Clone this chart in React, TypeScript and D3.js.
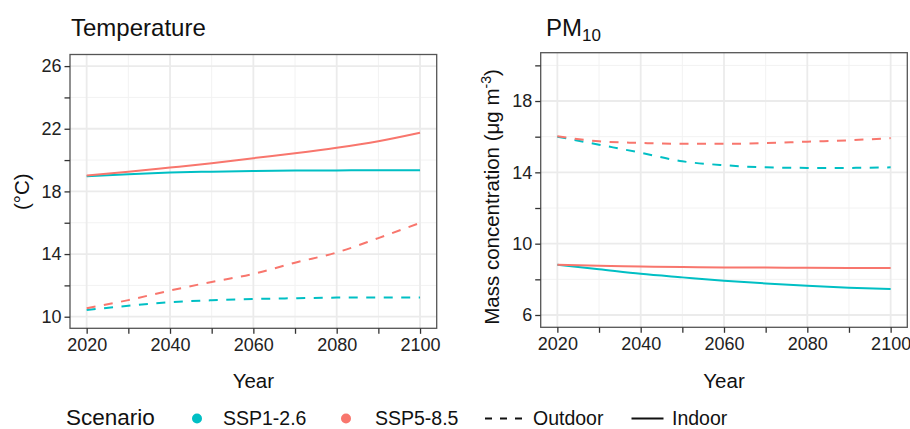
import React, { useEffect, useRef } from "react";
import * as d3 from "d3";

// data
const years = [2020, 2030, 2040, 2050, 2060, 2070, 2080, 2090, 2100];

const tempIndoorSSP1 = [18.96, 19.1, 19.2, 19.26, 19.3, 19.33, 19.34, 19.35, 19.35];
const tempIndoorSSP5 = [19.02, 19.25, 19.52, 19.8, 20.12, 20.43, 20.78, 21.2, 21.74];
const tempOutdoorSSP1 = [10.43, 10.7, 10.92, 11.05, 11.13, 11.18, 11.22, 11.23, 11.23];
const tempOutdoorSSP5 = [10.54, 11.06, 11.67, 12.22, 12.73, 13.45, 14.1, 15.02, 15.99];

const pmIndoorSSP1 = [8.82, 8.57, 8.31, 8.11, 7.92, 7.77, 7.64, 7.53, 7.46];
const pmIndoorSSP5 = [8.82, 8.76, 8.72, 8.69, 8.67, 8.66, 8.65, 8.64, 8.63];
const pmOutdoorSSP1 = [16.0, 15.55, 15.1, 14.62, 14.4, 14.28, 14.25, 14.25, 14.28];
const pmOutdoorSSP5 = [16.02, 15.74, 15.65, 15.6, 15.6, 15.64, 15.72, 15.8, 15.92];

const xMajor = [2020, 2040, 2060, 2080, 2100];
const xMinor = [2030, 2050, 2070, 2090];
const tempMajor = [10, 14, 18, 22, 26];
const tempMinor = [12, 16, 20, 24];
const pmMajor = [6, 10, 14, 18];
const pmMinor = [8, 12, 16, 20];

const scenarios = ["SSP1-2.6", "SSP5-8.5"];
const colors = ["#00BFC4", "#F8766D"];

const FONT = "'Liberation Sans', Arial, sans-serif";

const drawPanel = (svg, opts) => {
  const { left, right, top, bottom, yDomain, yMajor, yMinor, series } = opts;
  const x = d3.scaleLinear().domain([2016, 2104]).range([left, right]);
  const y = d3.scaleLinear().domain(yDomain).range([bottom, top]);

  const g = svg.append("g");

  // minor grid
  g.selectAll(".vminor")
    .data(xMinor)
    .join("line")
    .attr("x1", (d) => x(d))
    .attr("x2", (d) => x(d))
    .attr("y1", top)
    .attr("y2", bottom)
    .attr("stroke", "#F2F2F2")
    .attr("stroke-width", 1);
  g.selectAll(".hminor")
    .data(yMinor)
    .join("line")
    .attr("x1", left)
    .attr("x2", right)
    .attr("y1", (d) => y(d))
    .attr("y2", (d) => y(d))
    .attr("stroke", "#F2F2F2")
    .attr("stroke-width", 1);

  // major grid
  g.append("g")
    .selectAll("line")
    .data(xMajor)
    .join("line")
    .attr("x1", (d) => x(d))
    .attr("x2", (d) => x(d))
    .attr("y1", top)
    .attr("y2", bottom)
    .attr("stroke", "#EBEBEB")
    .attr("stroke-width", 1.8);
  g.append("g")
    .selectAll("line")
    .data(yMajor)
    .join("line")
    .attr("x1", left)
    .attr("x2", right)
    .attr("y1", (d) => y(d))
    .attr("y2", (d) => y(d))
    .attr("stroke", "#EBEBEB")
    .attr("stroke-width", 1.8);

  // lines
  const line = d3
    .line()
    .x((d) => x(d[0]))
    .y((d) => y(d[1]))
    .curve(d3.curveMonotoneX);

  series.forEach((s) => {
    g.append("path")
      .datum(years.map((yr, i) => [yr, s.values[i]]))
      .attr("d", line)
      .attr("fill", "none")
      .attr("stroke", s.color)
      .attr("stroke-width", 2)
      .attr("stroke-dasharray", s.dashed ? "9,8.5" : null);
  });

  // border
  g.append("rect")
    .attr("x", left)
    .attr("y", top)
    .attr("width", right - left)
    .attr("height", bottom - top)
    .attr("fill", "none")
    .attr("stroke", "#555")
    .attr("stroke-width", 1.3);

  // axes
  const yAxis = g
    .append("g")
    .attr("transform", `translate(${left},0)`)
    .call(
      d3
        .axisLeft(y)
        .tickValues([...yMajor, ...yMinor])
        .tickSize(5.5)
        .tickPadding(3)
        .tickFormat((d) => (yMajor.includes(d) ? String(d) : ""))
    );
  const xAxis = g
    .append("g")
    .attr("transform", `translate(0,${bottom})`)
    .call(
      d3
        .axisBottom(x)
        .tickValues([...xMajor, ...xMinor])
        .tickSize(5.5)
        .tickPadding(4)
        .tickFormat((d) => (xMajor.includes(d) ? String(d) : ""))
    );
  [yAxis, xAxis].forEach((a) => {
    a.select(".domain").remove();
    a.selectAll("line").attr("stroke", "#333").attr("stroke-width", 1.3);
    a.selectAll("text")
      .style("font-family", FONT)
      .style("font-size", "18px")
      .attr("fill", "#222");
  });

  // x label
  g.append("text")
    .attr("x", (left + right) / 2)
    .attr("y", 388)
    .attr("text-anchor", "middle")
    .style("font-family", FONT)
    .style("font-size", "20.5px")
    .attr("fill", "#111")
    .text("Year");

  return g;
};

const App = () => {
  const svgRef = useRef(null);

  useEffect(() => {
    const svg = d3.select(svgRef.current);
    svg.selectAll("*").remove();

    // Temperature panel
    drawPanel(svg, {
      left: 70,
      right: 436.7,
      top: 54.5,
      bottom: 328.3,
      yDomain: [9.26, 26.74],
      yMajor: tempMajor,
      yMinor: tempMinor,
      series: [
        { values: tempIndoorSSP1, color: colors[0], dashed: false },
        { values: tempIndoorSSP5, color: colors[1], dashed: false },
        { values: tempOutdoorSSP1, color: colors[0], dashed: true },
        { values: tempOutdoorSSP5, color: colors[1], dashed: true },
      ],
    });

    svg
      .append("text")
      .attr("x", 71)
      .attr("y", 35.5)
      .style("font-family", FONT)
      .style("font-size", "24px")
      .attr("fill", "#111")
      .text("Temperature");

    svg
      .append("text")
      .attr("transform", "translate(29,191.7) rotate(-90)")
      .attr("text-anchor", "middle")
      .style("font-family", FONT)
      .style("font-size", "20.5px")
      .attr("fill", "#111")
      .text("(°C)");

    // PM10 panel
    drawPanel(svg, {
      left: 540.7,
      right: 907.3,
      top: 52.7,
      bottom: 327.3,
      yDomain: [5.31, 20.71],
      yMajor: pmMajor,
      yMinor: pmMinor,
      series: [
        { values: pmIndoorSSP1, color: colors[0], dashed: false },
        { values: pmIndoorSSP5, color: colors[1], dashed: false },
        { values: pmOutdoorSSP1, color: colors[0], dashed: true },
        { values: pmOutdoorSSP5, color: colors[1], dashed: true },
      ],
    });

    const pmTitle = svg
      .append("text")
      .attr("x", 546)
      .attr("y", 35.5)
      .style("font-family", FONT)
      .style("font-size", "24px")
      .attr("fill", "#111");
    pmTitle.append("tspan").text("PM");
    pmTitle.append("tspan").attr("dy", 5).style("font-size", "17px").text("10");

    const pmLabel = svg
      .append("text")
      .attr("transform", "translate(499,197) rotate(-90)")
      .attr("text-anchor", "middle")
      .style("font-family", FONT)
      .style("font-size", "20.5px")
      .attr("fill", "#111");
    pmLabel.append("tspan").text("Mass concentration (μg m");
    pmLabel.append("tspan").attr("dy", -8).style("font-size", "14px").text("-3");
    pmLabel.append("tspan").attr("dy", 8).text(")");

    // legend
    const legend = svg.append("g").style("font-family", FONT).attr("fill", "#111");
    legend
      .append("text")
      .attr("x", 66)
      .attr("y", 424.5)
      .style("font-size", "22.5px")
      .text("Scenario");

    const dotX = [197, 346];
    const textX = [223, 375];
    scenarios.forEach((s, i) => {
      legend
        .append("circle")
        .attr("cx", dotX[i])
        .attr("cy", 418.5)
        .attr("r", 5)
        .attr("fill", colors[i]);
      legend
        .append("text")
        .attr("x", textX[i])
        .attr("y", 425)
        .style("font-size", "19.5px")
        .text(s);
    });

    legend
      .append("line")
      .attr("x1", 485)
      .attr("x2", 522)
      .attr("y1", 418.5)
      .attr("y2", 418.5)
      .attr("stroke", "#111")
      .attr("stroke-width", 2)
      .attr("stroke-dasharray", "7,8");
    legend
      .append("text")
      .attr("x", 533)
      .attr("y", 425)
      .style("font-size", "19.5px")
      .text("Outdoor");
    legend
      .append("line")
      .attr("x1", 631.5)
      .attr("x2", 663.5)
      .attr("y1", 418.5)
      .attr("y2", 418.5)
      .attr("stroke", "#111")
      .attr("stroke-width", 2);
    legend
      .append("text")
      .attr("x", 672)
      .attr("y", 425)
      .style("font-size", "19.5px")
      .text("Indoor");
  }, []);

  return (
    <svg
      ref={svgRef}
      width={910}
      height={429}
      style={{ position: "absolute", left: 0, top: 0, background: "#fff" }}
    ></svg>
  );
};

export default App;
